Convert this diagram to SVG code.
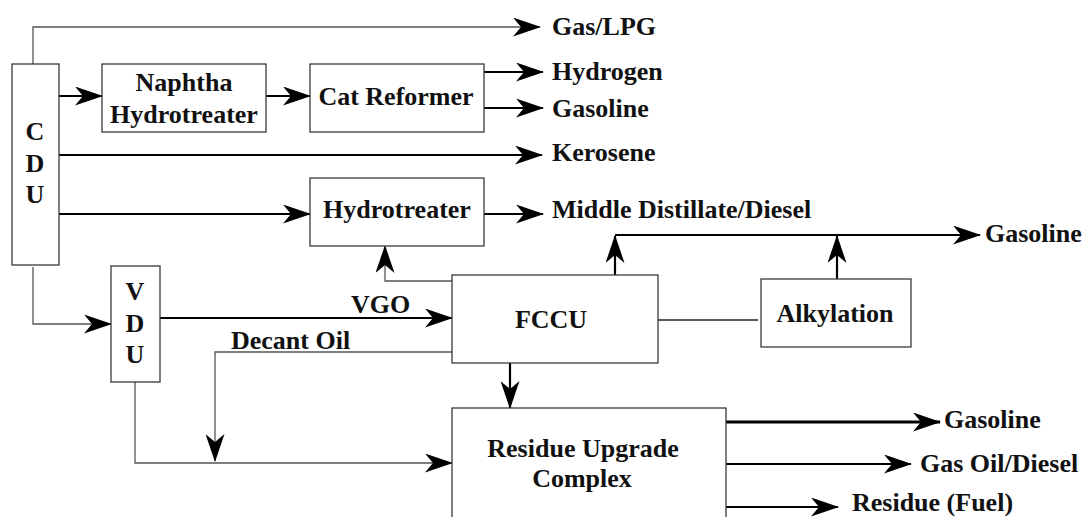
<svg xmlns="http://www.w3.org/2000/svg" width="1086" height="517" viewBox="0 0 1086 517">
<style>
.box{fill:#fff;stroke:#3a3a3a;stroke-width:1.3}
.t{font-family:"Liberation Serif","Times New Roman",serif;font-weight:bold;font-size:26px;fill:#111}
.m{text-anchor:middle}
.thick{fill:none;stroke:#000;stroke-width:2.2}
.thin{fill:none;stroke:#555;stroke-width:1.3}
.thinb{fill:none;stroke:#222;stroke-width:1.3}
.ar{marker-end:url(#ah)}
</style>
<defs>
<marker id="ah" markerUnits="userSpaceOnUse" viewBox="0 0 28 19" markerWidth="28" markerHeight="19" refX="27" refY="9.5" orient="auto">
<path d="M0,0 L28,9.5 L0,19 L8,9.5 Z" fill="#000"/>
</marker>
</defs>
<rect width="1086" height="517" fill="#fff"/>
<g id="connectors">
<path class="thin ar" d="M33,64 V27 H540"/>
<path class="thick ar" d="M59,96 H102"/>
<path class="thick ar" d="M266,96 H310"/>
<path class="thick ar" d="M484,72 H543"/>
<path class="thick ar" d="M484,108 H543"/>
<path class="thick ar" d="M59,155 H542"/>
<path class="thick ar" d="M59,214 H310"/>
<path class="thick ar" d="M484,214 H543"/>
<path class="thin ar" d="M452,281 H385 V246"/>
<path class="thick ar" d="M615,275 V236"/>
<path class="thick ar" d="M615,235 H980"/>
<path class="thick ar" d="M837,279 V236"/>
<path class="thinb" d="M658,320 H758"/>
<path class="thin ar" d="M33,267 V324 H111"/>
<path class="thick ar" d="M160,318 H452"/>
<path class="thin ar" d="M452,352 H215 V461"/>
<path class="thin ar" d="M135,382 V463 H452"/>
<path class="thick ar" d="M510,363 V408"/>
<path class="thick ar" d="M726,422 H940" style="stroke-width:3.2"/>
<path class="thick ar" d="M726,464 H911"/>
<path class="thick ar" d="M726,507 H838"/>
</g>
<g id="cdu">
<rect class="box" x="12" y="64" width="47" height="201"/>
<text class="t m" x="35" y="140">C</text>
<text class="t m" x="35" y="172">D</text>
<text class="t m" x="35" y="203">U</text>
</g>
<g id="naphtha-hydrotreater">
<rect class="box" x="102" y="64" width="164" height="68"/>
<text class="t m" x="184" y="91">Naphtha</text>
<text class="t m" x="184" y="123">Hydrotreater</text>
</g>
<g id="cat-reformer">
<rect class="box" x="310" y="64" width="174" height="68"/>
<text class="t m" x="396" y="105">Cat Reformer</text>
</g>
<g id="hydrotreater">
<rect class="box" x="310" y="178" width="174" height="68"/>
<text class="t m" x="397" y="218">Hydrotreater</text>
</g>
<g id="vdu">
<rect class="box" x="111" y="266" width="49" height="116"/>
<text class="t m" x="135" y="300">V</text>
<text class="t m" x="135" y="332">D</text>
<text class="t m" x="135" y="363">U</text>
</g>
<g id="fccu">
<rect class="box" x="452" y="275" width="206" height="88"/>
<text class="t m" x="551" y="328">FCCU</text>
</g>
<g id="alkylation">
<rect class="box" x="761" y="279" width="150" height="68"/>
<text class="t m" x="835" y="322">Alkylation</text>
</g>
<g id="residue-upgrade-complex">
<rect class="box" x="452" y="408" width="274" height="130"/>
<text class="t m" x="583" y="457">Residue Upgrade</text>
<text class="t m" x="582" y="487">Complex</text>
</g>
<g id="labels">
<text class="t" x="552" y="35">Gas/LPG</text>
<text class="t" x="552" y="80">Hydrogen</text>
<text class="t" x="552" y="117">Gasoline</text>
<text class="t" x="552" y="161">Kerosene</text>
<text class="t" x="552" y="218">Middle Distillate/Diesel</text>
<text class="t" x="985" y="242">Gasoline</text>
<text class="t" x="351" y="313">VGO</text>
<text class="t" x="231" y="349">Decant Oil</text>
<text class="t" x="944" y="428">Gasoline</text>
<text class="t" x="920" y="472">Gas Oil/Diesel</text>
<text class="t" x="852" y="511">Residue (Fuel)</text>
</g>
</svg>
